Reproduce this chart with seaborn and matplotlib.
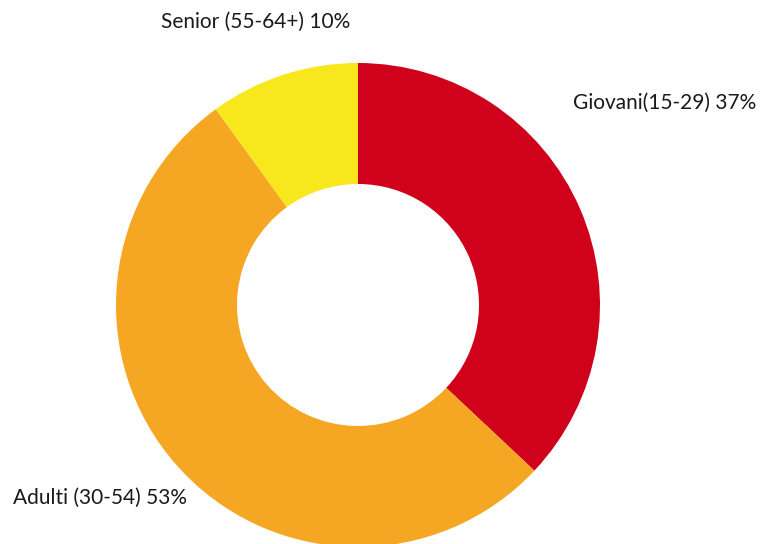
import matplotlib.pyplot as plt
import seaborn as sns

# dati della torta
labels = ['Giovani(15-29) 37%', 'Adulti (30-54) 53%', 'Senior (55-64+) 10%']
values = [37, 53, 10]
colors = ['#D0021B', '#F5A623', '#F8E71C']

sns.set_theme(style='white')
plt.rcParams['font.family'] = ['Lato', 'DejaVu Sans']

fig = plt.figure(figsize=(7.68, 5.44), dpi=100)
ax = fig.add_axes([0, 0, 1, 1])

ax.pie(values, colors=sns.color_palette(colors), startangle=90, counterclock=False,
       center=(358, 239), radius=242, frame=True,
       wedgeprops={'width': 121, 'edgecolor': 'none'})
ax.set_xlim(0, 768)
ax.set_ylim(0, 544)
ax.set_aspect('equal')
ax.axis('off')

# posizioni delle etichette
labelPos = [(573, 441), (13, 46), (161, 522)]
for lab, (x, y) in zip(labels, labelPos):
    ax.text(x, y, lab, ha='left', va='center', fontsize=15, color='#1a1a1a')

plt.savefig('out.png', dpi=100)
